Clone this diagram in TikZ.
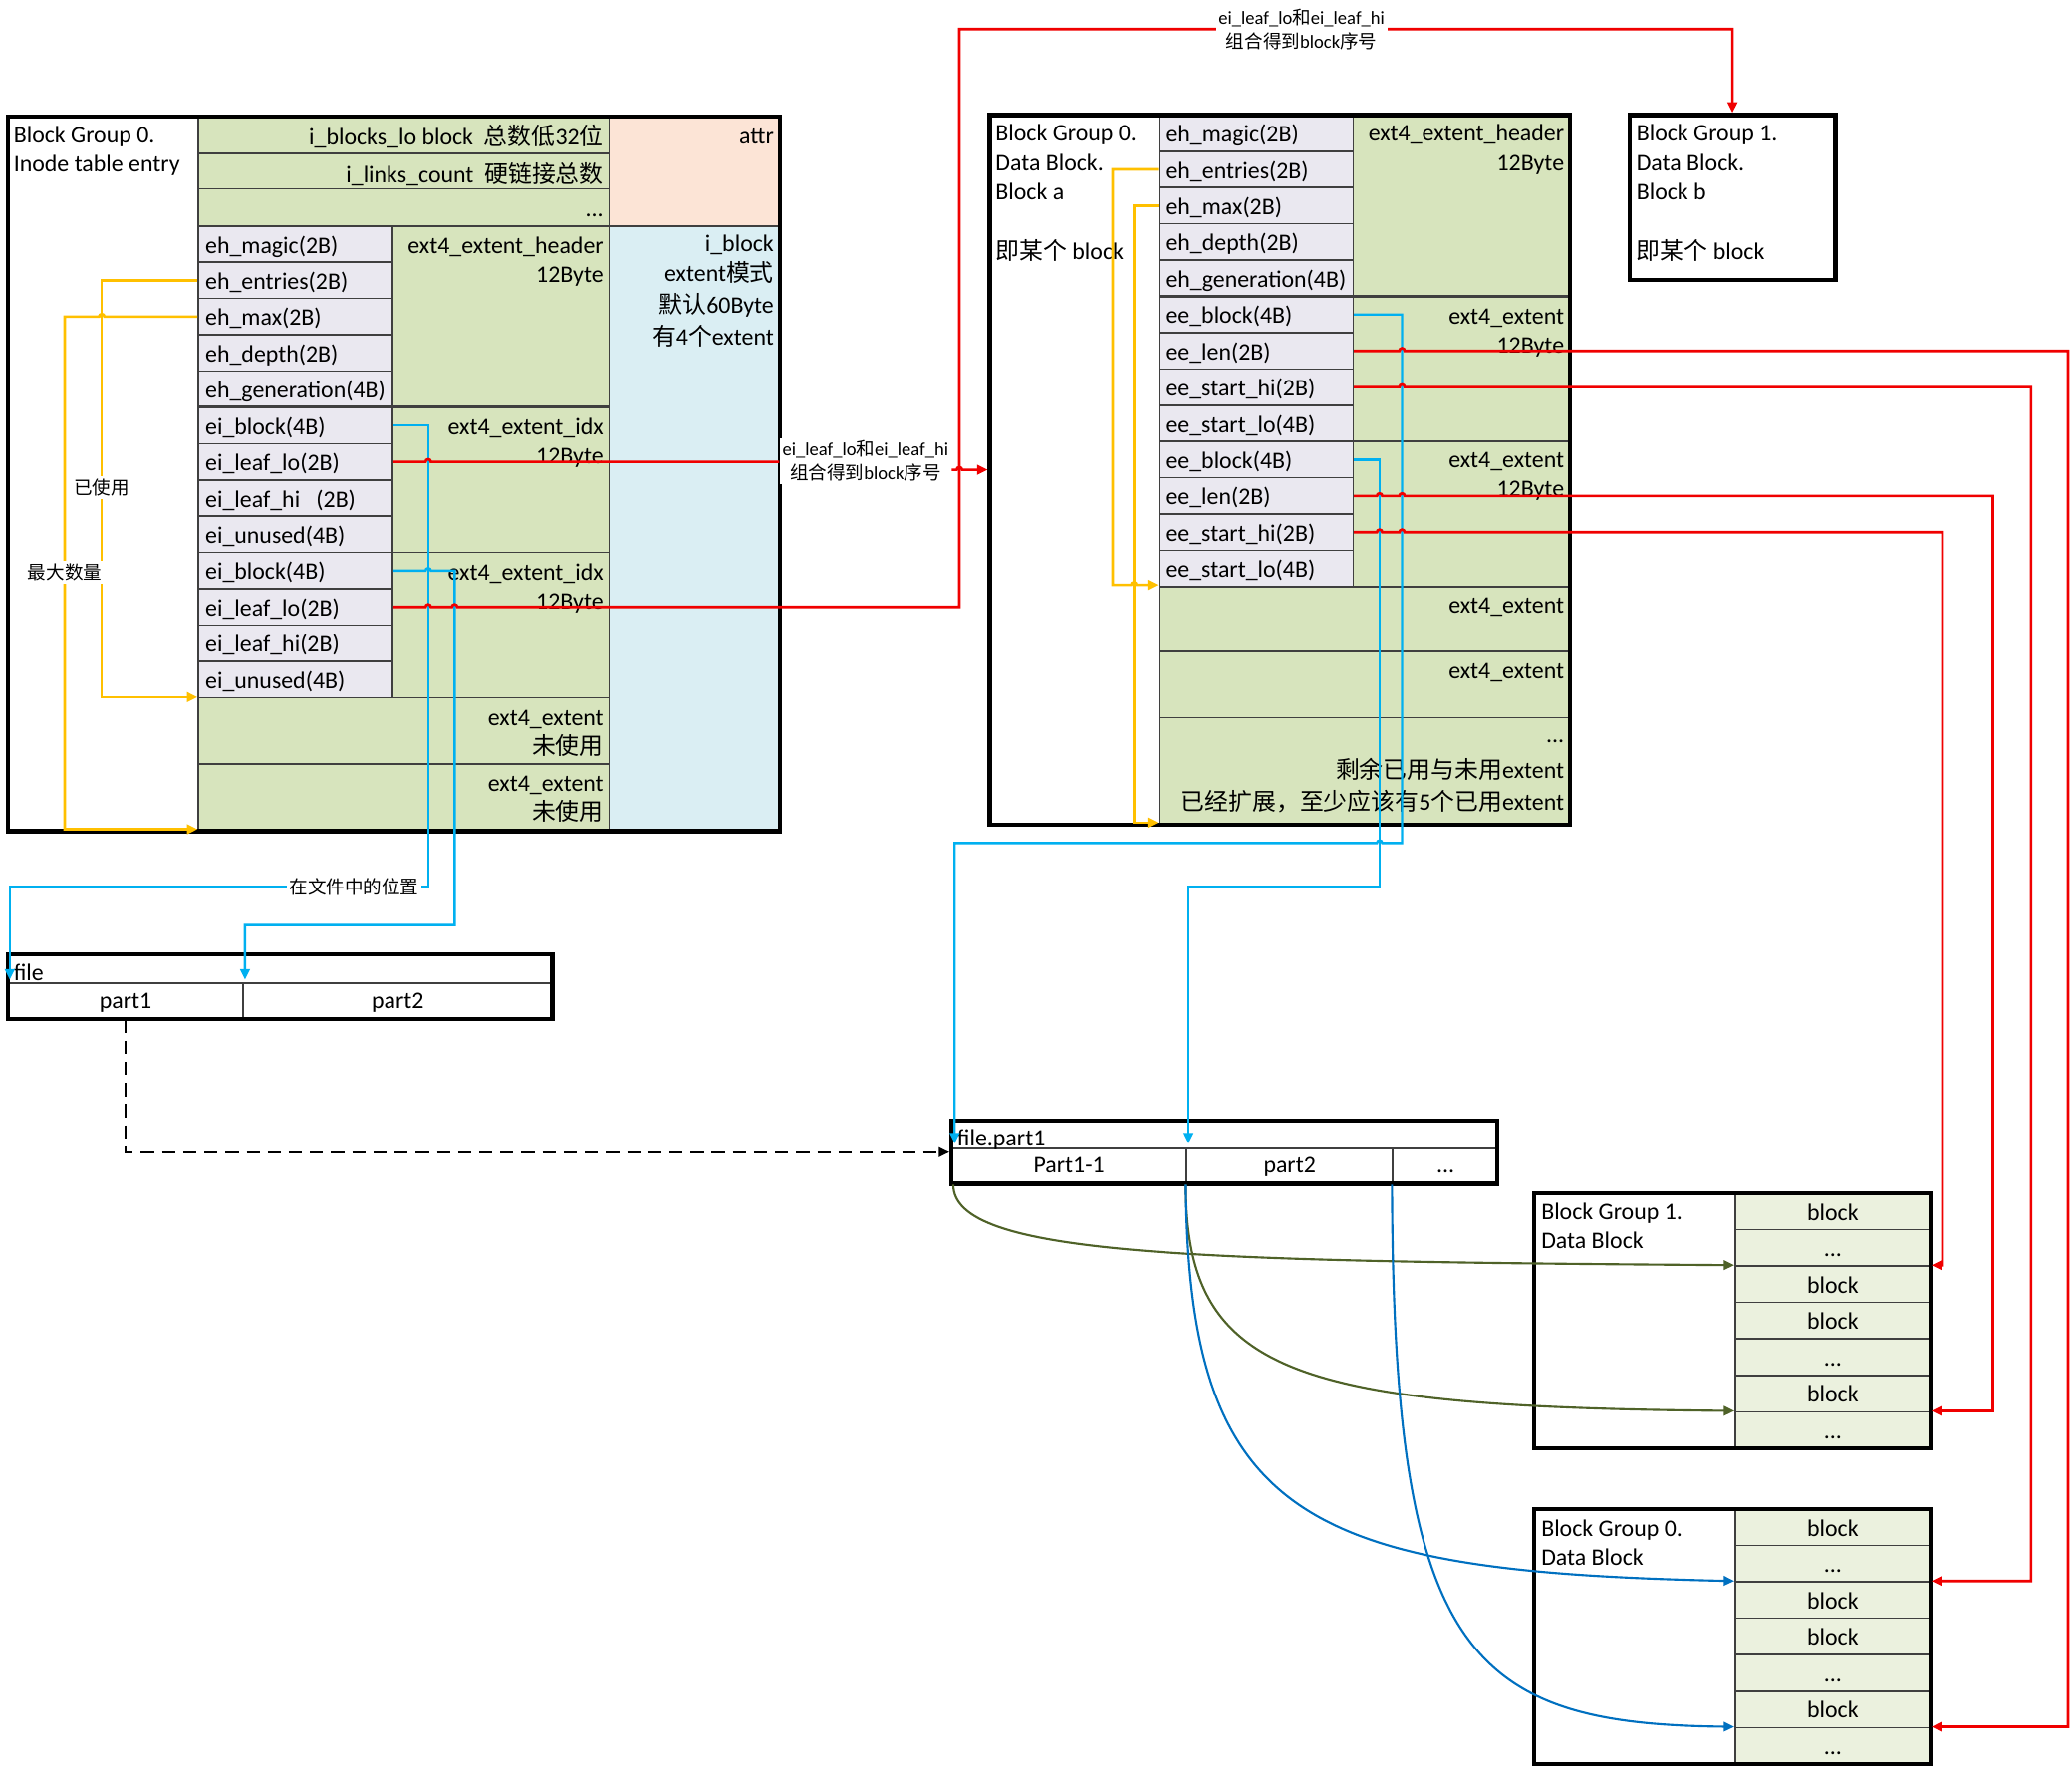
\documentclass[tikz,border=0pt]{standalone}
\usepackage{fontspec}
\setmainfont{Carlito}
\newfontfamily\cjk{Noto Sans CJK SC}
\newcommand\zh[1]{{\cjk #1}}
\newcommand\dd{...}
\usetikzlibrary{arrows.meta,fit,calc}
\pgfdeclarelayer{fg}
\pgfsetlayers{main,fg}
\definecolor{cgreen}{HTML}{D7E4BD}
\definecolor{cfield}{HTML}{EAE8F0}
\definecolor{cattr}{HTML}{FCE4D6}
\definecolor{cib}{HTML}{DAEEF3}
\definecolor{cblk}{HTML}{EBF1DE}
\definecolor{cyel}{HTML}{FFC000}
\definecolor{cblu}{HTML}{00B0F0}
\definecolor{cred}{HTML}{F00000}
\definecolor{coli}{HTML}{4F6228}
\definecolor{cdblu}{HTML}{0070C0}
\definecolor{cline}{HTML}{3F3F3F}
\tikzset{
  cellbox/.style={inner sep=0pt, draw=cline, line width=0.6pt},
  outerbox/.style={inner sep=0pt, draw=black, line width=1.6pt},
  txt/.style={inner sep=0pt, font=\fontsize{9}{11}\selectfont},
  lbl/.style={inner sep=1pt, fill=white, font=\fontsize{7}{9}\selectfont, align=center},
  tip/.style={-{Triangle[length=4pt,width=3.6pt]}},
  yline/.style={draw=cyel, line width=1pt, tip},
  bline/.style={draw=cblu, line width=0.9pt, tip},
  rl/.style={draw=cred, line width=1pt},
  rline/.style={rl, tip},
  oline/.style={draw=coli, line width=0.8pt, tip},
  dline/.style={draw=cdblu, line width=0.8pt, tip},
}
\newcount\tnum
\newcommand\mkcell[4]{\node[cellbox, fill=#4, fit={(#2) (#3)}] (#1) {};}
\newcommand\tw[3]{\global\advance\tnum by 1 \node[txt,anchor=base west] (tx\the\tnum) at (#1,#2) {#3};}
\newcommand\te[3]{\global\advance\tnum by 1 \node[txt,anchor=base east] (tx\the\tnum) at (#1,#2) {#3};}
\newcommand\tc[3]{\global\advance\tnum by 1 \node[txt,anchor=base] (tx\the\tnum) at (#1,#2) {#3};}
\begin{document}
\begin{tikzpicture}[x=0.5pt,y=-0.5pt]
\useasboundingbox (0,0) rectangle (1568,1343.4);
\fill[white] (0,0) rectangle (1568,1343.4);

% ---------------- left box: inode table entry
\mkcell{Llab}{6,88}{150,629}{white}
\mkcell{Lr1}{150,88}{461,116}{cgreen}
\mkcell{Lr2}{150,116}{461,143}{cgreen}
\mkcell{Lr3}{150,143}{461,171}{cgreen}
\mkcell{Lattr}{461,88}{590,171}{cattr}
\mkcell{Liblk}{461,171}{590,629}{cib}
\mkcell{Lhdr}{297,171}{461,308}{cgreen}
\mkcell{Lidx1}{297,308}{461,418}{cgreen}
\mkcell{Lidx2}{297,418}{461,528}{cgreen}
\mkcell{Lext1}{150,528}{461,578}{cgreen}
\mkcell{Lext2}{150,578}{461,629}{cgreen}
\foreach \t [count=\i] in {eh\_magic(2B),eh\_entries(2B),eh\_max(2B),eh\_depth(2B),eh\_generation(4B),ei\_block(4B),ei\_leaf\_lo(2B),ei\_leaf\_hi\ \ \ (2B),ei\_unused(4B),ei\_block(4B),ei\_leaf\_lo(2B),ei\_leaf\_hi(2B),ei\_unused(4B)}{
  \pgfmathsetmacro\ya{171+(\i-1)*27.46}
  \pgfmathsetmacro\yb{171+\i*27.46}
  \pgfmathsetmacro\yt{\ya+20.5}
  \node[cellbox, fill=cfield, fit={(150,\ya) (297,\yb)}] (L\i) {};
  \node[txt, anchor=base west] (Lt\i) at (155,\yt) {\t};
}
\draw[cline, line width=1.1pt] (150,308) -- (461,308);
\node[outerbox, fit={(6,88) (590,629)}] (Lbox) {};

\tw{10}{108}{Block Group 0.}
\tw{10}{130}{Inode table entry}
\te{457}{110}{i\_blocks\_lo block\ \ \zh{总数低}32\zh{位}}
\te{457}{138}{i\_links\_count\ \ \zh{硬链接总数}}
\te{457}{164}{...}
\te{586}{109}{attr}
\te{586}{190}{i\_block}
\te{586}{213}{extent\zh{模式}}
\te{586}{237}{\zh{默认}60Byte}
\te{586}{261}{\zh{有}4\zh{个}extent}
\te{457}{192}{ext4\_extent\_header}
\te{457}{214}{12Byte}
\te{457}{329}{ext4\_extent\_idx}
\te{457}{351}{12Byte}
\te{457}{439}{ext4\_extent\_idx}
\te{457}{461}{12Byte}
\te{457}{549}{ext4\_extent}
\te{457}{571}{\zh{未使用}}
\te{457}{599}{ext4\_extent}
\te{457}{621}{\zh{未使用}}

% ---------------- block a
\mkcell{Alab}{749,87}{877,624}{white}
\mkcell{Ahdr}{1024,87}{1188,224}{cgreen}
\mkcell{Aext1}{1024,224}{1188,334}{cgreen}
\mkcell{Aext2}{1024,334}{1188,444}{cgreen}
\mkcell{Aext3}{877,444}{1188,493}{cgreen}
\mkcell{Aext4}{877,493}{1188,543}{cgreen}
\mkcell{Arest}{877,543}{1188,624}{cgreen}
\foreach \t [count=\i] in {eh\_magic(2B),eh\_entries(2B),eh\_max(2B),eh\_depth(2B),eh\_generation(4B),ee\_block(4B),ee\_len(2B),ee\_start\_hi(2B),ee\_start\_lo(4B),ee\_block(4B),ee\_len(2B),ee\_start\_hi(2B),ee\_start\_lo(4B)}{
  \pgfmathsetmacro\ya{87+(\i-1)*27.46}
  \pgfmathsetmacro\yb{87+\i*27.46}
  \pgfmathsetmacro\yt{\ya+20.5}
  \node[cellbox, fill=cfield, fit={(877,\ya) (1024,\yb)}] (A\i) {};
  \node[txt, anchor=base west] (At\i) at (882,\yt) {\t};
}
\draw[cline, line width=1.1pt] (877,224) -- (1188,224);
\node[outerbox, fit={(749,87) (1188,624)}] (Abox) {};

\tw{753}{107}{Block Group 0.}
\tw{753}{129}{Data Block.}
\tw{753}{151}{Block a}
\tw{753}{196}{\zh{即某个} block}
\te{1184}{107}{ext4\_extent\_header}
\te{1184}{129}{12Byte}
\te{1184}{245}{ext4\_extent}
\te{1184}{267}{12Byte}
\te{1184}{354}{ext4\_extent}
\te{1184}{376}{12Byte}
\te{1184}{464}{ext4\_extent}
\te{1184}{514}{ext4\_extent}
\te{1184}{562}{...}
\te{1184}{589}{\zh{剩余已用与未用}extent}
\te{1184}{613}{\zh{已经扩展，至少应该有}5\zh{个已用}extent}

% ---------------- block b
\node[outerbox, fill=white, fit={(1233,87) (1389,212)}] (bb) {};
\tw{1238}{107}{Block Group 1.}
\tw{1238}{129}{Data Block.}
\tw{1238}{151}{Block b}
\tw{1238}{196}{\zh{即某个} block}

% ---------------- file
\mkcell{Fhead}{6,722}{418,744}{white}
\mkcell{Fp1}{6,744}{184,771}{white}
\mkcell{Fp2}{184,744}{418,771}{white}
\node[outerbox, fit={(6,722) (418,771)}] (Fbox) {};
\tw{10}{742.5}{file}
\tc{95}{763}{part1}
\tc{301}{763}{part2}

% ---------------- file.part1
\mkcell{Ghead}{720,848}{1133,869}{white}
\mkcell{Gq1}{720,869}{898,896}{white}
\mkcell{Gq2}{898,869}{1054,896}{white}
\mkcell{Gq3}{1054,869}{1133,896}{white}
\node[outerbox, fit={(720,848) (1133,896)}] (Gbox) {};
\tw{724}{867}{file.part1}
\tc{809}{888}{Part1-1}
\tc{976}{888}{part2}
\tc{1094}{888}{...}

% ---------------- block group 1 data block
\mkcell{B1lab}{1161,903}{1313,1096}{white}
\foreach \t [count=\i] in {block,\dd,block,block,\dd,block,\dd}{
  \pgfmathsetmacro\ya{903+(\i-1)*27.57}
  \pgfmathsetmacro\yb{903+\i*27.57}
  \pgfmathsetmacro\yt{\ya+20.5}
  \node[cellbox, fill=cblk, fit={(1313,\ya) (1461,\yb)}] (b\i) {};
  \node[txt, anchor=base] (bt\i) at (1387,\yt) {\t};
}
\node[outerbox, fit={(1161,903) (1461,1096)}] (B1box) {};
\tw{1166}{923}{Block Group 1.}
\tw{1166}{945}{Data Block}

% ---------------- block group 0 data block
\mkcell{B0lab}{1161,1142}{1313,1335}{white}
\foreach \t [count=\i] in {block,\dd,block,block,\dd,block,\dd}{
  \pgfmathsetmacro\ya{1142+(\i-1)*27.57}
  \pgfmathsetmacro\yb{1142+\i*27.57}
  \pgfmathsetmacro\yt{\ya+20.5}
  \node[cellbox, fill=cblk, fit={(1313,\ya) (1461,\yb)}] (c\i) {};
  \node[txt, anchor=base] (ct\i) at (1387,\yt) {\t};
}
\node[outerbox, fit={(1161,1142) (1461,1335)}] (B0box) {};
\tw{1166}{1163}{Block Group 0.}
\tw{1166}{1185}{Data Block}

% ---------------- labels (foreground)
\begin{pgfonlayer}{fg}
\node[lbl] (ly) at (77,369) {\zh{已使用}};
\node[lbl] (lm) at (49,433) {\zh{最大数量}};
\node[lbl] (lp) at (268,671) {\zh{在文件中的位置}};
\node[lbl] (lr1) at (655,349) {ei\_leaf\_lo\zh{和}ei\_leaf\_hi\\\zh{组合得到}block\zh{序号}};
\node[lbl] (lr2) at (985,22) {ei\_leaf\_lo\zh{和}ei\_leaf\_hi\\\zh{组合得到}block\zh{序号}};
\end{pgfonlayer}

% ---------------- helper coordinates
\coordinate (ly1) at (77,0);
\coordinate (lyh) at (79,0);
\coordinate (ly2) at (49,0);
\coordinate (lyb) at ($(L13.south west)+(0,-1)$);
\coordinate (lmb) at ($(Lext2.south west)+(0,-2)$);
\coordinate (h322) at (322,0);
\coordinate (h342) at (342,0);
\coordinate (bv1) at (324,0);
\coordinate (bv2) at (344,0);
\coordinate (bh2) at (0,700);
\coordinate (rv) at (726,0);
\coordinate (h724) at (724,0);
\coordinate (f1top) at ($(Fp1.north west)+(2,-2)$);
\coordinate (f2top) at ($(Fp2.north west)+(2,-2)$);
\coordinate (ay1) at (842,0);
\coordinate (ayh) at (856,0);
\coordinate (ay2) at (858,0);
\coordinate (ayb) at ($(A13.south west)+(0,-2)$);
\coordinate (arb) at ($(Arest.south west)+(0,-2)$);
\coordinate (av1) at (1061,0);
\coordinate (av2) at (1044,0);
\coordinate (ah1) at (0,638);
\coordinate (ah2) at (0,671);
\coordinate (h1046) at (1046,0);
\coordinate (h1059) at (1059,0);
\coordinate (h1042) at (1042,0);
\coordinate (g1top) at ($(Gq1.north west)+(3,-3)$);
\coordinate (g2top) at ($(Gq2.north west)+(2,-3)$);
\coordinate (rx1) at (1565,0);
\coordinate (rx2) at (1537,0);
\coordinate (rx3) at (1508,0);
\coordinate (rx4) at (1470,0);
\coordinate (rj) at (lr1.east |- Abox.west);
\coordinate (o1s) at ($(Gq1.south west)+(2,0)$);

% ---------------- yellow connectors
\draw[yline] (L2.west) -| (ly1 |- lyb) -- (lyb);
\draw[yline] (L3.west) -- (L3.west -| lyh) arc[start angle=0,end angle=180,radius=1pt] -| (ly2 |- lmb) -- (lmb);
\draw[yline] (A2.west) -| (ay1 |- ayb) -- (ayh |- ayb) arc[start angle=180,end angle=0,radius=1pt] -- (ayb);
\draw[yline] (A3.west) -| (ay2 |- arb) -- (arb);

% ---------------- blue connectors
\draw[bline] (L6.east) -| (bv1 |- lp.east) -- (f1top |- lp.east) -- (f1top);
\draw[bline] (L10.east) -- (L10.east -| h322) arc[start angle=180,end angle=0,radius=1pt] -| (bv2 |- bh2) -| (f2top);
\draw[bline] (A6.east) -| (av1 |- ah1) -- (h1046 |- ah1) arc[start angle=0,end angle=180,radius=1pt] -| (g1top);
\draw[bline] (A10.east) -| (av2 |- ah2) -| (g2top);

% ---------------- red connectors
\draw[rl] (L7.east) -- (L7.east -| h322) arc[start angle=180,end angle=0,radius=1pt] -- (L7.east -| lr1.west);
\draw[rline] (rj) -- (rj -| h724) arc[start angle=180,end angle=0,radius=1pt] -- (Abox.west);
\draw[rline] (L11.east) -- (L11.east -| h322) arc[start angle=180,end angle=0,radius=1pt] -- (L11.east -| h342) arc[start angle=180,end angle=0,radius=1pt] -- (L11.east -| rv) -- (rv |- lr2) -- (lr2 -| bb.north) -- (bb.north);
\draw[rline] (A7.east) -- (A7.east -| h1059) arc[start angle=180,end angle=0,radius=1pt] -- (A7.east -| rx1) |- (c7.north east);
\draw[rline] (A8.east) -- (A8.east -| h1059) arc[start angle=180,end angle=0,radius=1pt] -- (A8.east -| rx2) |- (c3.north east);
\draw[rline] (A11.east) -- (A11.east -| h1042) arc[start angle=180,end angle=0,radius=1pt] -- (A11.east -| h1059) arc[start angle=180,end angle=0,radius=1pt] -- (A11.east -| rx3) |- (b7.north east);
\draw[rline] (A12.east) -- (A12.east -| h1042) arc[start angle=180,end angle=0,radius=1pt] -- (A12.east -| h1059) arc[start angle=180,end angle=0,radius=1pt] -- (A12.east -| rx4) |- (b3.north east);

% ---------------- dashed connector
\draw[black, line width=0.9pt, dash pattern=on 5pt off 3pt, tip] (Fp1.south) |- (Gbox.west);

% ---------------- curves
\draw[oline] (o1s) .. controls +(0,54) and +(-413,-3) .. (b3.north west);
\draw[oline] (Gq2.south west) .. controls +(0,144) and +(-333,-3) .. (b7.north west);
\draw[dline] (Gq2.south west) .. controls +(2,254) and +(-323,-7) .. (c3.north west);
\draw[dline] (Gq3.south west) .. controls +(1,354) and +(-203,-2) .. (c7.north west);
\end{tikzpicture}
\end{document}
